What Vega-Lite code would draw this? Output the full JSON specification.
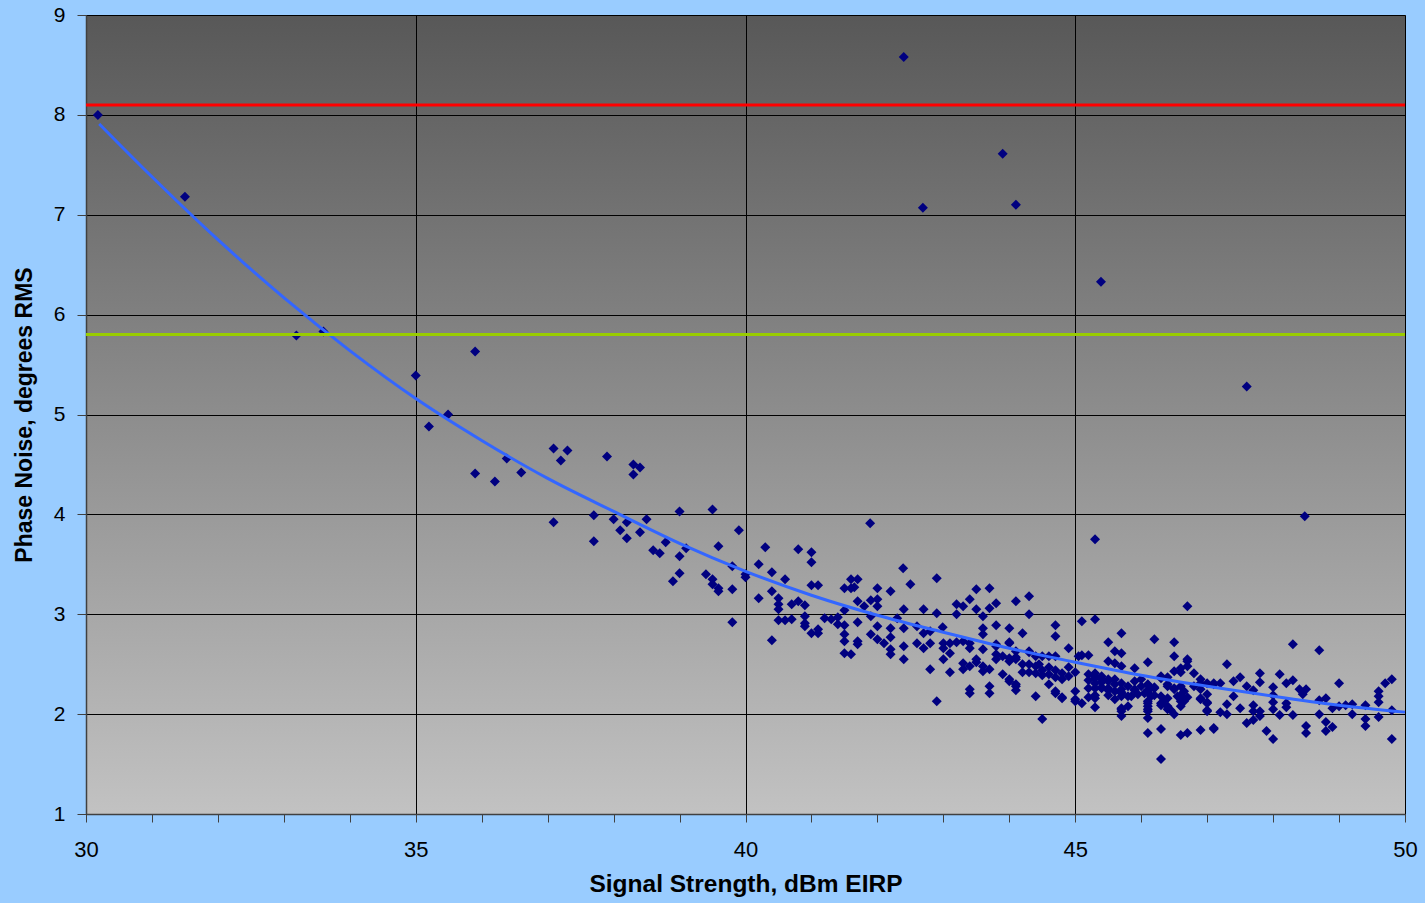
{
  "$schema": "https://vega.github.io/schema/vega-lite/v6.json",
  "width": 1319,
  "height": 799,
  "autosize": {"type": "none"},
  "padding": {"left": 86, "top": 15, "right": 20, "bottom": 89},
  "background": "#99CCFF",
  "view": {
    "stroke": "#808080",
    "strokeWidth": 1,
    "fill": {"gradient": "linear", "x1": 0, "y1": 0, "x2": 0, "y2": 1,
      "stops": [{"offset": 0, "color": "#585858"}, {"offset": 1, "color": "#C2C2C2"}]}
  },
  "config": {
    "axisX": {
      "grid": true,
      "gridColor": "#000000",
      "gridWidth": 1,
      "domainColor": "#404040",
      "domainWidth": 1.5,
      "tickColor": "#404040",
      "tickSize": 8,
      "labelFlush": false,
      "labelFont": "Liberation Sans",
      "labelFontSize": 22,
      "labelColor": "#000000",
      "labelPadding": 17,
      "titleFont": "Liberation Sans",
      "titleFontSize": 24.5,
      "titleFontWeight": "bold",
      "titleColor": "#000000",
      "titlePadding": 12
    },
    "axisY": {
      "grid": true,
      "gridColor": "#000000",
      "gridWidth": 1,
      "domainColor": "#404040",
      "domainWidth": 1.5,
      "tickColor": "#404040",
      "tickSize": 9,
      "labelFlush": false,
      "labelFont": "Liberation Sans",
      "labelFontSize": 21,
      "labelColor": "#000000",
      "labelPadding": 12,
      "titleFont": "Liberation Sans",
      "titleFontSize": 23,
      "titleFontWeight": "bold",
      "titleColor": "#000000",
      "titlePadding": 17
    }
  },
  "datasets": {
    "trend": [
      {"signal": 30.2, "noise": 7.91}, {"signal": 31, "noise": 7.38}, {"signal": 32, "noise": 6.75},
      {"signal": 33, "noise": 6.17}, {"signal": 34, "noise": 5.64}, {"signal": 35, "noise": 5.16},
      {"signal": 36, "noise": 4.74}, {"signal": 37, "noise": 4.36}, {"signal": 38, "noise": 4.03},
      {"signal": 39, "noise": 3.71}, {"signal": 40, "noise": 3.43}, {"signal": 41, "noise": 3.19},
      {"signal": 42, "noise": 2.99}, {"signal": 43, "noise": 2.82}, {"signal": 44, "noise": 2.66},
      {"signal": 45, "noise": 2.52}, {"signal": 46, "noise": 2.39}, {"signal": 47, "noise": 2.28},
      {"signal": 48, "noise": 2.18}, {"signal": 49, "noise": 2.09}, {"signal": 50, "noise": 2.02}
    ],
    "limits": [{"level": 8.1}],
    "targets": [{"level": 5.8}],
    "points": [
      {"signal":30.18,"noise":8.0},{"signal":31.5,"noise":7.18},{"signal":33.19,"noise":5.79},{"signal":33.6,"noise":5.83},{"signal":35.0,"noise":5.39},{"signal":35.9,"noise":5.63},{"signal":35.2,"noise":4.88},{"signal":35.49,"noise":5.0},{"signal":35.9,"noise":4.41},{"signal":36.2,"noise":4.33},{"signal":36.38,"noise":4.56},{"signal":36.6,"noise":4.42},{"signal":37.09,"noise":4.66},{"signal":37.3,"noise":4.64},{"signal":37.2,"noise":4.54},{"signal":37.9,"noise":4.58},{"signal":38.3,"noise":4.5},{"signal":38.4,"noise":4.47},{"signal":38.3,"noise":4.4},{"signal":37.09,"noise":3.92},{"signal":37.7,"noise":3.99},{"signal":38.0,"noise":3.95},{"signal":38.2,"noise":3.92},{"signal":38.5,"noise":3.95},{"signal":39.0,"noise":4.03},{"signal":38.1,"noise":3.84},{"signal":38.2,"noise":3.76},{"signal":38.4,"noise":3.82},{"signal":37.7,"noise":3.73},{"signal":38.79,"noise":3.72},{"signal":38.6,"noise":3.64},{"signal":38.7,"noise":3.61},{"signal":39.0,"noise":3.58},{"signal":39.1,"noise":3.66},{"signal":39.5,"noise":4.05},
      {"signal":39.0,"noise":3.41},{"signal":38.9,"noise":3.33},{"signal":39.4,"noise":3.40},{"signal":39.5,"noise":3.35},{"signal":39.5,"noise":3.30},{"signal":39.59,"noise":3.26},{"signal":39.59,"noise":3.23},{"signal":39.9,"noise":3.84},{"signal":39.59,"noise":3.68},{"signal":39.8,"noise":3.48},{"signal":39.8,"noise":3.25},{"signal":40.0,"noise":3.37},{"signal":40.0,"noise":3.40},{"signal":39.8,"noise":2.92},{"signal":40.2,"noise":3.50},{"signal":40.3,"noise":3.67},{"signal":40.2,"noise":3.16},{"signal":40.4,"noise":3.42},{"signal":40.6,"noise":3.35},{"signal":40.4,"noise":3.23},{"signal":40.5,"noise":3.16},{"signal":40.5,"noise":3.10},{"signal":40.5,"noise":3.05},{"signal":40.4,"noise":2.74},{"signal":40.5,"noise":2.94},{"signal":40.6,"noise":2.94},{"signal":40.7,"noise":2.95},{"signal":40.7,"noise":3.10},{"signal":40.8,"noise":3.13},{"signal":40.9,"noise":3.09},{"signal":40.8,"noise":3.65},{"signal":41.0,"noise":3.62},{"signal":41.0,"noise":3.52},{"signal":41.0,"noise":3.29},{"signal":41.1,"noise":3.29},{"signal":40.9,"noise":2.98},{"signal":40.9,"noise":2.91},{"signal":40.9,"noise":2.88},{"signal":41.0,"noise":2.81},{"signal":41.1,"noise":2.85},{"signal":41.1,"noise":2.81},{"signal":41.2,"noise":2.96},{"signal":41.3,"noise":2.95},{"signal":41.4,"noise":2.97},{"signal":41.4,"noise":2.90},{"signal":41.5,"noise":2.89},{"signal":41.5,"noise":2.80},{"signal":41.5,"noise":2.73},{"signal":41.5,"noise":2.61},{"signal":41.6,"noise":2.60},{"signal":41.7,"noise":2.73},{"signal":41.7,"noise":2.70},{"signal":41.7,"noise":2.92},{"signal":41.5,"noise":3.26},{"signal":41.6,"noise":3.26},{"signal":41.6,"noise":3.35},{"signal":41.7,"noise":3.13},{"signal":41.5,"noise":3.04},
      {"signal":41.89,"noise":3.91},{"signal":45.3,"noise":3.75},{"signal":42.39,"noise":3.46},{"signal":42.9,"noise":3.36},{"signal":42.5,"noise":3.30},{"signal":42.2,"noise":3.23},{"signal":41.7,"noise":3.35},{"signal":41.65,"noise":3.27},{"signal":42.0,"noise":3.26},{"signal":42.0,"noise":3.15},{"signal":41.9,"noise":3.14},{"signal":41.8,"noise":3.08},{"signal":42.0,"noise":3.08},{"signal":42.4,"noise":3.05},{"signal":42.7,"noise":3.05},{"signal":42.9,"noise":3.01},{"signal":43.2,"noise":3.10},{"signal":43.3,"noise":3.08},{"signal":43.4,"noise":3.15},{"signal":43.5,"noise":3.25},{"signal":43.7,"noise":3.26},{"signal":43.5,"noise":3.05},{"signal":43.7,"noise":3.06},{"signal":43.8,"noise":3.11},{"signal":44.1,"noise":3.13},{"signal":44.3,"noise":3.18},{"signal":44.3,"noise":3.0},{"signal":43.2,"noise":3.0},{"signal":43.6,"noise":2.98},{"signal":41.9,"noise":2.98},{"signal":42.3,"noise":2.96},{"signal":42.0,"noise":2.88},{"signal":42.4,"noise":2.86},{"signal":42.6,"noise":2.88},{"signal":42.99,"noise":2.87},{"signal":43.6,"noise":2.86},{"signal":43.8,"noise":2.89},{"signal":44.0,"noise":2.86},{"signal":44.2,"noise":2.81},{"signal":44.7,"noise":2.89},{"signal":44.7,"noise":2.78},{"signal":44.9,"noise":2.66},{"signal":45.1,"noise":2.93},{"signal":45.3,"noise":2.95},{"signal":41.9,"noise":2.80},{"signal":42.0,"noise":2.75},{"signal":42.1,"noise":2.71},{"signal":42.2,"noise":2.86},{"signal":42.2,"noise":2.77},{"signal":42.2,"noise":2.65},{"signal":42.2,"noise":2.60},{"signal":42.4,"noise":2.68},{"signal":42.4,"noise":2.55},{"signal":42.6,"noise":2.71},{"signal":42.7,"noise":2.81},{"signal":42.7,"noise":2.66},{"signal":42.8,"noise":2.83},{"signal":42.8,"noise":2.71},{"signal":43.0,"noise":2.71},{"signal":43.0,"noise":2.66},{"signal":43.0,"noise":2.55},{"signal":43.1,"noise":2.71},{"signal":43.1,"noise":2.61},{"signal":43.2,"noise":2.72},{"signal":43.3,"noise":2.73},{"signal":43.4,"noise":2.71},{"signal":43.4,"noise":2.66},{"signal":43.3,"noise":2.51},{"signal":43.3,"noise":2.45},{"signal":43.4,"noise":2.48},{"signal":43.5,"noise":2.55},{"signal":43.5,"noise":2.52},{"signal":43.6,"noise":2.65},{"signal":43.6,"noise":2.48},{"signal":43.7,"noise":2.45},{"signal":43.8,"noise":2.68},{"signal":43.8,"noise":2.60},{"signal":43.9,"noise":2.58},{"signal":44.0,"noise":2.56},{"signal":44.0,"noise":2.71},{"signal":44.1,"noise":2.63},{"signal":44.1,"noise":2.57},{"signal":44.2,"noise":2.50},{"signal":44.2,"noise":2.42},{"signal":44.3,"noise":2.63},{"signal":44.4,"noise":2.58},{"signal":44.45,"noise":2.5},{"signal":42.8,"noise":2.45},{"signal":43.1,"noise":2.42},{"signal":43.9,"noise":2.40},{"signal":44.0,"noise":2.33},{"signal":44.1,"noise":2.28},{"signal":44.1,"noise":2.24},{"signal":43.4,"noise":2.25},{"signal":43.4,"noise":2.21},{"signal":43.7,"noise":2.28},{"signal":43.7,"noise":2.21},{"signal":42.9,"noise":2.13},{"signal":44.4,"noise":2.18},{"signal":44.5,"noise":1.95},{"signal":44.7,"noise":2.21},{"signal":44.8,"noise":2.17},{"signal":45.0,"noise":2.13},{"signal":45.1,"noise":2.11},{"signal":45.3,"noise":2.07},
      {"signal":43.6,"noise":2.80},{"signal":44.0,"noise":2.72},{"signal":43.8,"noise":2.70},{"signal":44.3,"noise":2.62},{"signal":44.5,"noise":2.58},{"signal":44.6,"noise":2.58},{"signal":44.7,"noise":2.58},{"signal":45.05,"noise":2.58},{"signal":45.1,"noise":2.59},{"signal":45.2,"noise":2.59},{"signal":43.8,"noise":2.55},{"signal":44.0,"noise":2.53},{"signal":44.1,"noise":2.55},{"signal":43.6,"noise":2.43},
      {"signal":44.3,"noise":2.50},{"signal":44.4,"noise":2.48},{"signal":44.3,"noise":2.42},{"signal":44.4,"noise":2.41},{"signal":44.5,"noise":2.44},{"signal":44.5,"noise":2.39},{"signal":44.6,"noise":2.47},{"signal":44.6,"noise":2.40},{"signal":44.7,"noise":2.44},{"signal":44.7,"noise":2.37},{"signal":44.8,"noise":2.41},{"signal":44.8,"noise":2.35},{"signal":44.9,"noise":2.38},{"signal":44.9,"noise":2.47},{"signal":45.0,"noise":2.42},
      {"signal":44.0,"noise":2.35},{"signal":44.1,"noise":2.30},{"signal":44.6,"noise":2.30},{"signal":44.7,"noise":2.23},{"signal":44.8,"noise":2.16},{"signal":45.0,"noise":2.23},{"signal":45.0,"noise":2.15},
      {"signal":45.2,"noise":2.40},{"signal":45.3,"noise":2.41},{"signal":45.2,"noise":2.34},{"signal":45.3,"noise":2.36},{"signal":45.4,"noise":2.38},{"signal":45.4,"noise":2.32},{"signal":45.5,"noise":2.35},{"signal":45.2,"noise":2.26},{"signal":45.3,"noise":2.26},{"signal":45.4,"noise":2.26},{"signal":45.5,"noise":2.26},{"signal":45.6,"noise":2.30},{"signal":45.6,"noise":2.23},{"signal":45.7,"noise":2.25},{"signal":45.8,"noise":2.28},{"signal":45.9,"noise":2.25},{"signal":46.0,"noise":2.28},{"signal":46.1,"noise":2.30},{"signal":46.1,"noise":2.23},{"signal":46.2,"noise":2.26},{"signal":46.3,"noise":2.36},{"signal":46.4,"noise":2.30},{"signal":46.5,"noise":2.25},{"signal":46.6,"noise":2.28},{"signal":46.65,"noise":2.23},{"signal":46.8,"noise":2.28},{"signal":46.9,"noise":2.31},{"signal":47.0,"noise":2.31},{"signal":47.1,"noise":2.31},
      {"signal":45.5,"noise":2.53},{"signal":45.6,"noise":2.51},{"signal":45.7,"noise":2.48},{"signal":45.9,"noise":2.46},{"signal":46.1,"noise":2.52},{"signal":46.5,"noise":2.43},{"signal":46.7,"noise":2.53},{"signal":46.7,"noise":2.48},{"signal":46.8,"noise":2.41},
      {"signal":45.2,"noise":2.17},{"signal":45.3,"noise":2.16},{"signal":45.5,"noise":2.19},{"signal":45.6,"noise":2.15},{"signal":45.7,"noise":2.18},{"signal":45.85,"noise":2.18},{"signal":45.95,"noise":2.20},{"signal":46.05,"noise":2.21},{"signal":46.15,"noise":2.18},{"signal":46.3,"noise":2.18},{"signal":46.4,"noise":2.16},{"signal":46.55,"noise":2.18},{"signal":46.65,"noise":2.13},{"signal":46.9,"noise":2.16},{"signal":47.0,"noise":2.20},
      {"signal":45.7,"noise":2.05},{"signal":45.7,"noise":1.98},{"signal":46.1,"noise":2.11},{"signal":46.1,"noise":2.05},{"signal":46.1,"noise":1.96},{"signal":46.3,"noise":2.09},{"signal":46.4,"noise":2.05},{"signal":46.5,"noise":2.0},{"signal":46.6,"noise":2.08},{"signal":47.0,"noise":2.11},{"signal":47.0,"noise":2.03},
      {"signal":46.1,"noise":1.81},{"signal":46.3,"noise":1.85},{"signal":46.6,"noise":1.79},{"signal":46.7,"noise":1.81},{"signal":46.9,"noise":1.84},{"signal":47.1,"noise":1.85},
      {"signal":46.7,"noise":3.08},{"signal":45.7,"noise":2.81},{"signal":45.5,"noise":2.72},{"signal":46.2,"noise":2.75},{"signal":46.5,"noise":2.72},{"signal":45.6,"noise":2.63},{"signal":45.7,"noise":2.61},{"signal":46.5,"noise":2.58},{"signal":46.7,"noise":2.55},{"signal":48.3,"noise":2.70},{"signal":48.7,"noise":2.64},{"signal":47.3,"noise":2.50},{"signal":46.6,"noise":2.46},{"signal":46.6,"noise":2.42},{"signal":46.3,"noise":2.38},{"signal":46.4,"noise":2.37},{"signal":47.5,"noise":2.37},{"signal":47.8,"noise":2.41},{"signal":48.1,"noise":2.40},{"signal":47.4,"noise":2.33},{"signal":47.6,"noise":2.28},{"signal":47.7,"noise":2.24},{"signal":47.8,"noise":2.32},{"signal":48.0,"noise":2.27},{"signal":48.2,"noise":2.31},{"signal":48.3,"noise":2.34},{"signal":49.0,"noise":2.31},{"signal":49.7,"noise":2.31},{"signal":49.8,"noise":2.35},{"signal":49.6,"noise":2.23},{"signal":49.6,"noise":2.18},{"signal":49.6,"noise":2.12},{"signal":48.4,"noise":2.25},{"signal":48.5,"noise":2.25},{"signal":48.45,"noise":2.20},{"signal":48.7,"noise":2.14},{"signal":48.8,"noise":2.16},{"signal":48.9,"noise":2.06},{"signal":49.0,"noise":2.08},{"signal":49.1,"noise":2.09},{"signal":49.2,"noise":2.10},{"signal":49.4,"noise":2.09},{"signal":49.2,"noise":2.0},{"signal":49.4,"noise":1.95},{"signal":49.4,"noise":1.88},{"signal":49.6,"noise":1.97},{"signal":49.8,"noise":2.04},{"signal":49.8,"noise":1.75},{"signal":48.7,"noise":2.0},{"signal":48.8,"noise":1.92},{"signal":48.9,"noise":1.87},{"signal":48.8,"noise":1.83},{"signal":48.5,"noise":1.88},{"signal":48.5,"noise":1.81},{"signal":48.3,"noise":1.99},{"signal":48.1,"noise":1.99},{"signal":48.0,"noise":2.05},{"signal":48.0,"noise":2.12},{"signal":48.0,"noise":2.19},{"signal":48.2,"noise":2.07},{"signal":48.2,"noise":2.11},{"signal":47.8,"noise":2.03},{"signal":47.8,"noise":1.98},{"signal":47.7,"noise":2.03},{"signal":47.7,"noise":2.09},{"signal":47.7,"noise":1.94},{"signal":47.6,"noise":1.91},{"signal":47.9,"noise":1.83},{"signal":48.0,"noise":1.75},{"signal":47.5,"noise":2.06},{"signal":47.3,"noise":2.10},{"signal":47.3,"noise":2.00},{"signal":47.2,"noise":2.02},{"signal":47.4,"noise":2.18},{"signal":47.1,"noise":1.86},{"signal":47.0,"noise":2.12},{"signal":47.0,"noise":2.04},{"signal":46.9,"noise":2.15},{"signal":46.9,"noise":2.25},{"signal":46.3,"noise":1.55},{"signal":46.1,"noise":2.03},{"signal":46.1,"noise":2.08},{"signal":46.1,"noise":2.13},{"signal":45.7,"noise":2.03},{"signal":45.7,"noise":2.06},{"signal":45.8,"noise":2.08},{"signal":46.4,"noise":2.08},{"signal":46.45,"noise":2.04},{"signal":46.3,"noise":2.11},{"signal":46.35,"noise":2.14},{"signal":46.6,"noise":2.19},{"signal":46.7,"noise":2.17},{"signal":46.6,"noise":2.13},{"signal":46.5,"noise":2.26},{"signal":46.4,"noise":2.28},{"signal":46.2,"noise":2.27},{"signal":46.1,"noise":2.29},{"signal":46.1,"noise":2.24},{"signal":46.2,"noise":2.19},{"signal":45.9,"noise":2.24},{"signal":45.8,"noise":2.18},{"signal":45.7,"noise":2.21},{"signal":45.7,"noise":2.31},{"signal":45.7,"noise":2.22},{"signal":45.6,"noise":2.35},{"signal":45.5,"noise":2.33},{"signal":45.4,"noise":2.35},{"signal":45.3,"noise":2.38},{"signal":45.3,"noise":2.31},{"signal":45.3,"noise":2.19},{"signal":45.4,"noise":2.27},{"signal":45.5,"noise":2.24},{"signal":45.9,"noise":2.33},{"signal":46.0,"noise":2.35},{"signal":46.9,"noise":2.35},{"signal":47.1,"noise":2.30},{"signal":47.2,"noise":2.31},
      {"signal":42.4,"noise":8.58},{"signal":42.69,"noise":7.07},{"signal":43.9,"noise":7.61},{"signal":44.1,"noise":7.10},{"signal":45.39,"noise":6.33},{"signal":47.6,"noise":5.28},{"signal":48.48,"noise":3.98}
    ]
  },
  "layer": [
    {
      "data": {"name": "points"},
      "mark": {"type": "point", "shape": "diamond", "filled": true, "size": 100, "color": "#000080", "opacity": 1, "strokeWidth": 0},
      "encoding": {
        "x": {
          "field": "signal", "type": "quantitative",
          "scale": {"domain": [30, 50], "nice": false, "zero": false},
          "axis": {
            "title": "Signal Strength, dBm EIRP",
            "format": "d",
            "values": [30,31,32,33,34,35,36,37,38,39,40,41,42,43,44,45,46,47,48,49,50],
            "labelExpr": "datum.value % 5 === 0 ? datum.label : ''",
            "gridOpacity": {"condition": {"test": "datum.value % 5 === 0", "value": 1}, "value": 0}
          }
        },
        "y": {
          "field": "noise", "type": "quantitative",
          "scale": {"domain": [1, 9], "nice": false, "zero": false},
          "axis": {
            "title": "Phase Noise, degrees RMS",
            "format": "d",
            "values": [1,2,3,4,5,6,7,8,9]
          }
        }
      }
    },
    {
      "data": {"name": "trend"},
      "mark": {"type": "line", "color": "#3366FF", "strokeWidth": 3, "interpolate": "monotone"},
      "encoding": {
        "x": {"field": "signal", "type": "quantitative", "title": "Signal Strength, dBm EIRP"},
        "y": {"field": "noise", "type": "quantitative", "title": "Phase Noise, degrees RMS"}
      }
    },
    {
      "data": {"name": "limits"},
      "mark": {"type": "rule", "color": "#FF0000", "strokeWidth": 3},
      "encoding": {"y": {"field": "level", "type": "quantitative", "title": "Phase Noise, degrees RMS"}}
    },
    {
      "data": {"name": "targets"},
      "mark": {"type": "rule", "color": "#99CC00", "strokeWidth": 3},
      "encoding": {"y": {"field": "level", "type": "quantitative", "title": "Phase Noise, degrees RMS"}}
    }
  ]
}
